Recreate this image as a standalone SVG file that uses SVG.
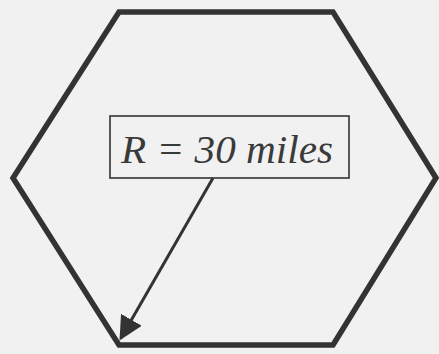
<svg xmlns="http://www.w3.org/2000/svg" width="439" height="354" viewBox="0 0 439 354">
<style>
.hex{fill:none;stroke:#333;stroke-width:5.5;stroke-linejoin:miter}
.box{fill:none;stroke:#333;stroke-width:1.6}
.lbl{font-family:"Liberation Serif","Times New Roman",serif;font-style:italic;font-size:40px;fill:#3a3a3a}
.conn{stroke:#333;stroke-width:3;fill:none}
</style>
<defs>
<marker id="ah" markerWidth="8" markerHeight="8" refX="7" refY="4" orient="auto" markerUnits="strokeWidth">
<path d="M0,0 L8,4 L0,8 z" fill="#333"/>
</marker>
</defs>
<rect width="439" height="354" fill="#f1f1f1"/>
<g id="cell">
<polygon class="hex" points="119,12 333,12 436,178 333,345 119,345 13,178"/>
</g>
<g id="label">
<rect class="box" x="110" y="116" width="239" height="62"/>
<text class="lbl" x="121" y="163" textLength="212" lengthAdjust="spacingAndGlyphs">R = 30 miles</text>
</g>
<g id="connectors">
<line class="conn" x1="213" y1="178" x2="121" y2="338" marker-end="url(#ah)"/>
</g>
</svg>
